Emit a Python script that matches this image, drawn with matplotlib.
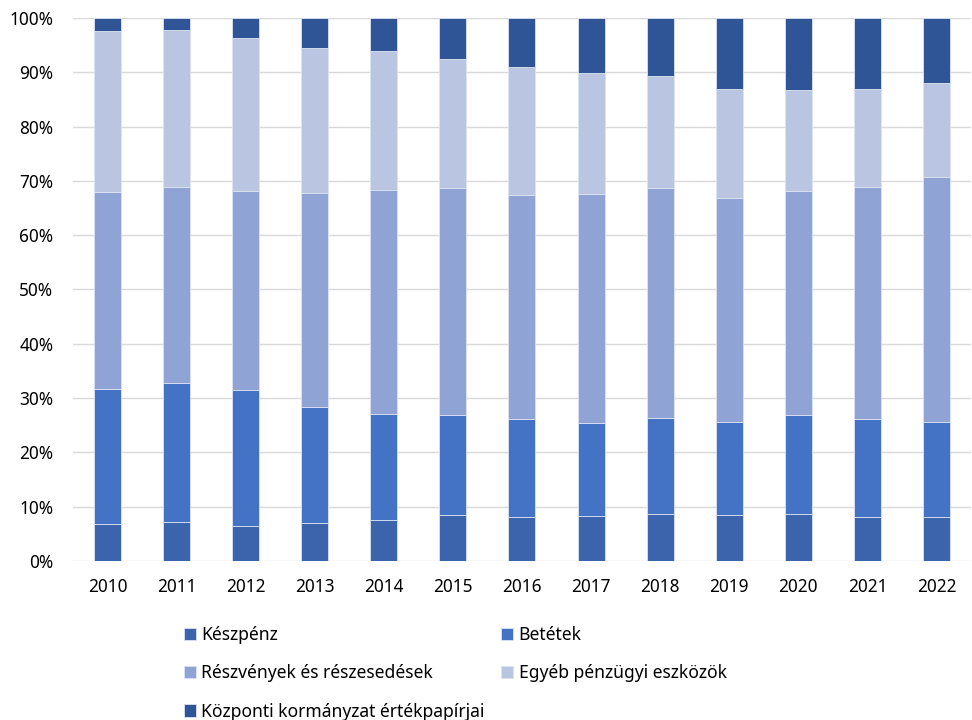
import numpy as np
import matplotlib.pyplot as plt
from matplotlib.ticker import PercentFormatter

plt.rcParams['font.family'] = ['Noto Sans', 'DejaVu Sans']

years = ['2010', '2011', '2012', '2013', '2014', '2015', '2016',
         '2017', '2018', '2019', '2020', '2021', '2022']
keszpenz = [6.8, 7.1, 6.5, 6.9, 7.6, 8.4, 8.0, 8.2, 8.6, 8.4, 8.6, 8.0, 8.0]
betetek = [24.9, 25.6, 24.9, 21.4, 19.5, 18.5, 18.1, 17.2, 17.8, 17.1, 18.2, 18.2, 17.6]
reszvenyek = [36.3, 36.2, 36.8, 39.5, 41.2, 41.7, 41.3, 42.2, 42.3, 41.4, 41.4, 42.7, 45.1]
egyeb = [29.6, 28.8, 28.1, 26.7, 25.7, 23.9, 23.5, 22.3, 20.7, 20.0, 18.5, 18.1, 17.3]
kormany = [2.4, 2.3, 3.7, 5.5, 6.0, 7.5, 9.1, 10.1, 10.6, 13.1, 13.3, 13.0, 12.0]

series = [
    ('Készpénz', keszpenz, '#3B64AD'),
    ('Betétek', betetek, '#4472C4'),
    ('Részvények és részesedések', reszvenyek, '#8FA3D4'),
    ('Egyéb pénzügyi eszközök', egyeb, '#B9C5E1'),
    ('Központi kormányzat értékpapírjai', kormany, '#2F5597'),
]

fig = plt.figure(figsize=(9.72, 7.2), dpi=100)
ax = fig.add_axes([0.075, 0.221, 0.924, 0.754])

x = np.arange(len(years))
bottom = np.zeros(len(years))
bars = []
for name, vals, col in series:
    vals = np.array(vals)
    b = ax.bar(x, vals, 0.39, bottom=bottom, color=col, label=name,
               edgecolor='#DCE3F2', linewidth=0.6, zorder=3)
    bars.append(b)
    bottom += vals

ax.set_ylim(0, 100)
ax.set_xlim(-0.5, len(years) - 0.5)
ax.set_yticks(np.arange(0, 101, 10))
ax.yaxis.set_major_formatter(PercentFormatter(decimals=0))
ax.set_xticks(x)
ax.set_xticklabels(years)
ax.tick_params(length=0, labelsize=12.4, colors='#000000')
ax.tick_params(axis='x', pad=12)
ax.tick_params(axis='y', pad=14)
ax.grid(axis='y', color='#D9D9D9', linewidth=1, zorder=0)
for s in ax.spines.values():
    s.set_visible(False)

# legend filled column-wise, so reorder to get the 2-column layout
order = [0, 2, 4, 1, 3]
fig.legend([bars[i] for i in order], [series[i][0] for i in order],
           ncol=2, loc='upper left', bbox_to_anchor=(0.189, 0.131),
           frameon=False, fontsize=12.6, handlelength=0.68, handleheight=0.68,
           handletextpad=0.3, labelspacing=1.17, columnspacing=0.98,
           borderpad=0, borderaxespad=0)

fig.savefig('out.png', dpi=100)
